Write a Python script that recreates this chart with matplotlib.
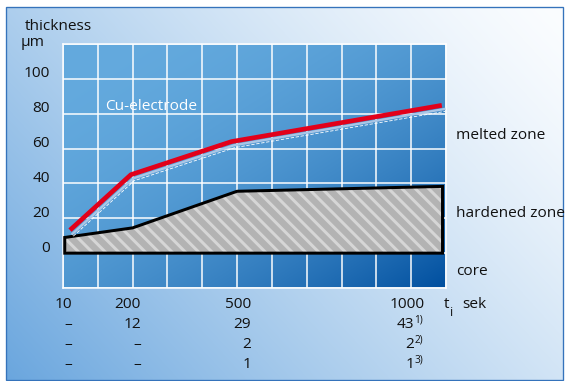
import numpy as np
import matplotlib
matplotlib.use("Agg")
import matplotlib.pyplot as plt
from matplotlib.patches import Polygon, Rectangle
from matplotlib.transforms import offset_copy
from matplotlib.colors import to_rgb

plt.rcParams["font.family"] = ["Open Sans", "DejaVu Sans"]
plt.rcParams["hatch.linewidth"] = 1.8

# melted zone boundary (Cu-electrode), thickness in um vs time
melt_t = [20, 195, 484, 1088]
melt_um = [13.2, 45, 64, 84.8]

# hardened zone outline
hard_t = [5, 5, 200, 500, 1090, 1090]
hard_um = [0, 9, 14.5, 35.5, 38.3, 0]

y_ticks = [0, 20, 40, 60, 80, 100]

# table below the chart
col_time = ["10", "200", "500", "1000"]
row_a = ["–", "12", "29", "43"]
row_b = ["–", "–", "2", "2"]
row_c = ["–", "–", "1", "1"]
notes = ["1)", "2)", "3)"]

W, H, DPI = 573, 381, 120
fig = plt.figure(figsize=(W / DPI, H / DPI), dpi=DPI)
fig.patch.set_facecolor("white")

# background panel with gradient
bg = fig.add_axes([0, 0, 1, 1])
bg.set_xlim(0, W)
bg.set_ylim(H, 0)
bg.axis("off")
gx, gy = np.meshgrid(np.linspace(0, 1, 200), np.linspace(0, 1, 200))
s = np.clip((1 - gx) * 0.62 + gy * 0.38, 0, 1) ** 1.3
light = np.array(to_rgb("#fbfdff"))
dark = np.array(to_rgb("#6aa6de"))
img = light + (dark - light) * s[..., None]
bg.imshow(img, extent=(6, 563, 380, 7), aspect="auto", interpolation="bilinear", zorder=0)
bg.add_patch(Rectangle((6, 7), 557, 373, fill=False, ec="#3573bb", lw=0.8, zorder=1))

# chart area
ax = fig.add_axes([63 / W, (H - 288) / H, 383 / W, 244 / H])
cx, cy = np.meshgrid(np.linspace(0, 1, 200), np.linspace(0, 1, 200))
t = ((cx + cy) / 2) ** 2.2
c0 = np.array(to_rgb("#64aade"))
c1 = np.array(to_rgb("#004f9f"))
cimg = c0 + (c1 - c0) * t[..., None]
ax.imshow(cimg, extent=(0, 1100, -20, 120), aspect="auto", interpolation="bilinear", zorder=0)
ax.set_xlim(0, 1100)
ax.set_ylim(-20, 120)
ax.set_xticks(np.arange(0, 1101, 100))
ax.set_yticks(np.arange(-20, 121, 20))
ax.grid(True, color="white", lw=0.9, zorder=1)
ax.tick_params(length=0, labelbottom=False, labelleft=False)
for sp in ax.spines.values():
    sp.set_color("white")
    sp.set_linewidth(0.9)

# hardened zone
ax.add_patch(Polygon(list(zip(hard_t, hard_um)), closed=True, fc="#b3b3b3",
                     ec="#d6d6d6", lw=0, hatch="\\\\\\", zorder=2))
ax.add_patch(Polygon(list(zip(hard_t, hard_um)), closed=True, fill=False,
                     ec="black", lw=1.8, joinstyle="miter", zorder=3))

# melted zone line with light shadow lines
sh1 = offset_copy(ax.transData, fig=fig, x=1.5, y=-2.2, units="points")
sh2 = offset_copy(ax.transData, fig=fig, x=2.0, y=-3.6, units="points")
ax.plot(melt_t, melt_um, color="#a9c6e6", lw=1.4, transform=sh1, zorder=3)
ax.plot(melt_t, melt_um, color="white", lw=0.5, ls=(0, (4, 2)), transform=sh2, zorder=3)
ax.plot(melt_t, melt_um, color="#e2001a", lw=2.8, solid_capstyle="butt", zorder=4)

fs = 9.2
ax.text(122, 84.3, "Cu-electrode", color="white", fontsize=fs, va="center", ha="left")

# y labels
lab = offset_copy(ax.transData, fig=fig, y=3.0, units="points")
for v in y_ticks:
    ax.text(-37, v, str(v), transform=lab, ha="right", va="center",
            fontsize=fs, color="#111111", clip_on=False)
ax.text(-110, 130, "thickness", ha="left", va="center", fontsize=fs, color="#111111", clip_on=False)
ax.text(-123, 121, "µm", ha="left", va="center", fontsize=fs, color="#111111", clip_on=False)

# zone labels
for label, yv in [("melted zone", 67.7), ("hardened zone", 23), ("core", -10.7)]:
    ax.text(1128, yv, label, ha="left", va="center", fontsize=fs, color="#111111", clip_on=False)

# table
col_right = [27, 224, 540, 1008]
row_y = [-29.3, -40.7, -52.2, -63.7]
for i, txt in enumerate(col_time):
    xr = col_right[i] if i < 3 else 1040
    ax.text(xr, row_y[0], txt, ha="right", va="center", fontsize=fs, color="#111111", clip_on=False)
for r, row in enumerate([row_a, row_b, row_c]):
    for i, txt in enumerate(row):
        ax.text(col_right[i], row_y[r + 1], txt, ha="right", va="center",
                fontsize=fs, color="#111111", clip_on=False)
    ax.text(1009, row_y[r + 1] + 2.3, notes[r], ha="left", va="center",
            fontsize=6, color="#111111", clip_on=False)
ax.text(1094, row_y[0], "t", ha="left", va="center", fontsize=fs, color="#111111", clip_on=False)
ax.text(1112, row_y[0] - 4.8, "i", ha="left", va="center", fontsize=7.5, color="#111111", clip_on=False)
ax.text(1146, row_y[0], "sek", ha="left", va="center", fontsize=fs, color="#111111", clip_on=False)

fig.savefig("out.png", dpi=DPI)
